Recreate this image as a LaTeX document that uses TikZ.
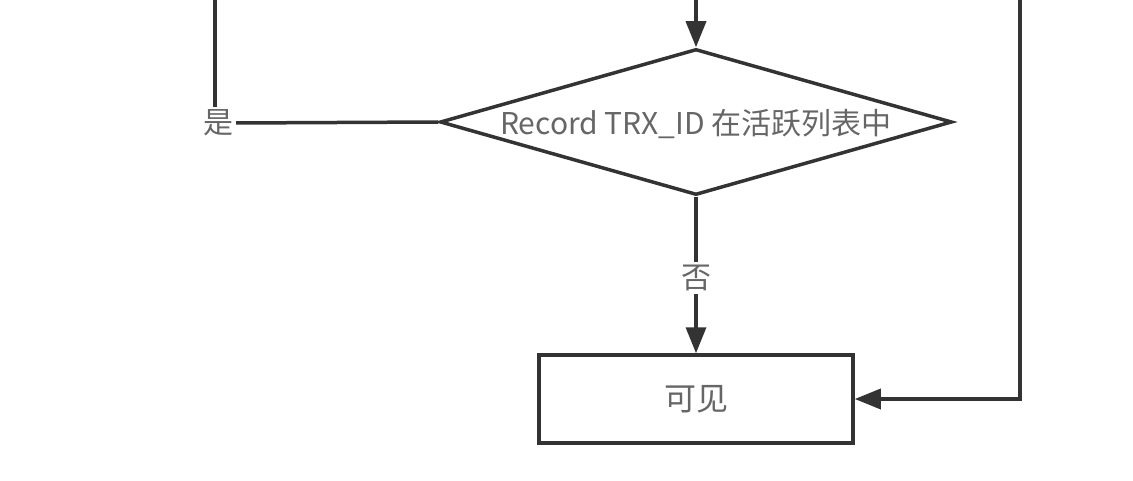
\documentclass[tikz,border=0pt]{standalone}
\usepackage{fontspec}
\setmainfont{Noto Sans CJK SC}
\usetikzlibrary{shapes.geometric,arrows.meta}
\definecolor{linegray}{HTML}{333333}
\definecolor{textgray}{HTML}{666666}
\tikzset{
  flow/.style={line width=3.5pt, draw=linegray},
  arr/.style={flow, -{Triangle[length=26pt,width=20pt]}},
  decide/.style={diamond, draw=linegray, line width=3.5pt, shape aspect=3.5, inner sep=0pt, text height=26pt, text depth=0pt, minimum width=512pt, minimum height=146pt, text=textgray},
  result/.style={rectangle, draw=linegray, line width=3.5pt, minimum width=314pt, minimum height=88pt, text=textgray, font=\fontsize{32}{38}\selectfont},
  lbl/.style={text=textgray, inner sep=3pt}
}

\begin{document}
\begin{tikzpicture}[x=1pt,y=-1pt, font=\fontsize{30}{36}\selectfont]
\useasboundingbox (0,0) rectangle (1133,481);
% nodes
\node [decide] (check) at (696,122) {Record TRX\_ID 在活跃列表中};
\node [result] (visible) at (696,399) {可见};
\node [lbl] (yes) at (218,123) {是};
\node [lbl] (no) at (696,278) {否};
\coordinate (intop) at (696,0);
\coordinate (lefttop) at (215,0);
\coordinate (righttop) at (1020,0);
% connectors
\draw [arr] (intop) -- (check.north);
\draw [flow] (lefttop) -- (yes.north -| lefttop);
\draw [flow] (yes.east) -- (check.west);
\draw [flow] (check.south) -- (no.north);
\draw [arr] (no.south) -- (visible.north);
\draw [arr] (righttop) |- (visible.east);
\end{tikzpicture}
\end{document}
